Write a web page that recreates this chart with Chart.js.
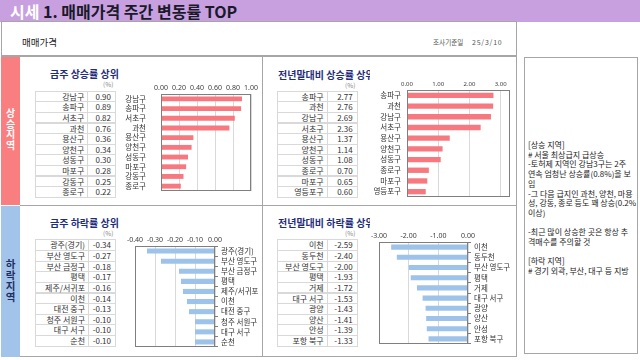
<!DOCTYPE html>
<html><head><meta charset="utf-8">
<script src="https://cdn.jsdelivr.net/npm/chart.js@4.4.1/dist/chart.umd.min.js"></script>
<style>
body{margin:0;width:640px;height:360px;overflow:hidden;background:#fff;font-family:"Noto Sans CJK KR","Noto Sans",sans-serif;position:relative;color:#222}
.a{position:absolute}
canvas{position:absolute}
.cell{position:absolute;box-sizing:border-box;border:1px solid #d9d9d9;font-size:8px;line-height:10px;white-space:nowrap;text-align:right;color:#333}
.sec{position:absolute;font-size:10px;font-weight:bold;color:#1f2e7a;white-space:nowrap;overflow:hidden;line-height:12px}
.pct{position:absolute;font-size:6.5px;color:#888;line-height:8px}
.vch{position:absolute;left:1px;width:19px;text-align:center;font-weight:bold}
</style></head><body>
<div class="a" style="left:0;top:0;width:640px;height:22px;background:#c8a0e0"></div>
<div class="a" style="left:10px;top:1px;font-size:16px;font-weight:bold;line-height:20px;white-space:nowrap;color:#1a1a2a"><span style="color:#fff">시세</span> 1. 매매가격 주간 변동률 TOP</div>
<div class="a" style="left:1px;top:21px;width:514px;height:33px;border:1px solid #a6a6a6;border-bottom:2px solid #a6a6a6;background:#fff"></div>
<div class="a" style="left:22px;top:36px;font-size:9.5px;line-height:12px">매매가격</div>
<div class="a" style="left:433px;top:37px;font-size:6.6px;line-height:10px;color:#555;white-space:nowrap">조사기준일</div>
<div class="a" style="left:472px;top:37px;font-size:7px;line-height:10px;color:#555;letter-spacing:0.8px">25/3/10</div>

<div class="a" style="left:20px;top:57px;width:496px;height:299px;border:1px solid #a6a6a6;border-top:none;border-left:none"></div>
<div class="a" style="left:262px;top:57px;width:1px;height:300px;background:#a6a6a6"></div>
<div class="a" style="left:20px;top:205px;width:497px;height:1px;background:#a6a6a6"></div>
<div class="a" style="left:1px;top:57px;width:19px;height:148px;background:#f97e80"></div>
<div class="a" style="left:1px;top:206px;width:19px;height:151px;background:#a2c4ea"></div>
<div id="bands"></div>

<div class="a" style="left:524px;top:57px;width:112px;height:295px;border:1px solid #a6a6a6"></div>
<div class="a" style="left:528px;top:140px;font-size:8px;line-height:9.7px;white-space:pre;color:#222">[상승 지역]
# 서울 최상급지 급상승
-토허제 지역인 강남3구는 2주
연속 엄청난 상승률(0.8%)을 보
임
-그 다음 급지인 과천, 양천, 마용
성, 강동, 종로 등도 꽤 상승(0.2%
이상)

-최근 많이 상승한 곳은 항상 추
격매수를 주의할 것

[하락 지역]
# 경기 외곽, 부산, 대구 등 지방</div>

<div class="sec" style="left:50px;top:68px">금주 상승률 상위</div>
<div class="sec" style="left:278px;top:69px;width:92px">전년말대비 상승률 상위</div>
<div class="sec" style="left:50px;top:217px">금주 하락률 상위</div>
<div class="sec" style="left:278px;top:217px;width:92px">전년말대비 하락률 상위</div>
<div class="pct" style="left:103px;top:80px">(%)</div>
<div class="pct" style="left:345px;top:81px">(%)</div>
<div class="pct" style="left:103px;top:229px">(%)</div>
<div class="pct" style="left:345px;top:229px">(%)</div>

<div id="tabs"></div>
<canvas id="c1" width="140" height="116" style="left:120px;top:80px"></canvas>
<canvas id="c2" width="155" height="126" style="left:360px;top:76px"></canvas>
<canvas id="c3" width="135" height="120" style="left:124px;top:231px"></canvas>
<canvas id="c4" width="150" height="120" style="left:368px;top:228px"></canvas>
<script>
const upWeekLabels = ['강남구','송파구','서초구','과천','용산구','양천구','성동구','마포구','강동구','종로구'];
const upWeekValues = [0.90,0.89,0.82,0.76,0.36,0.34,0.30,0.28,0.25,0.22];
const upYearLabels = ['송파구','과천','강남구','서초구','용산구','양천구','성동구','종로구','마포구','영등포구'];
const upYearValues = [2.77,2.76,2.69,2.36,1.37,1.14,1.08,0.70,0.65,0.60];
const downWeekLabels = ['광주(경기)','부산 영도구','부산 금정구','평택','제주/서귀포','이천','대전 중구','청주 서원구','대구 서구','순천'];
const downWeekValues = [-0.34,-0.27,-0.18,-0.17,-0.16,-0.14,-0.13,-0.10,-0.10,-0.10];
const downYearLabels = ['이천','동두천','부산 영도구','평택','거제','대구 서구','광양','양산','안성','포항 북구'];
const downYearValues = [-2.59,-2.40,-2.00,-1.93,-1.72,-1.53,-1.43,-1.41,-1.39,-1.33];
const upBandText = ['상','승','지','역'];
const downBandText = ['하','락','지','역'];

const RED = '#f7797f', BLUE = '#9ec3ea';

function buildBand(chars, top, step, size, color){
  const host = document.getElementById('bands');
  chars.forEach((ch, i) => {
    const d = document.createElement('div');
    d.className = 'vch';
    d.style.cssText = `top:${top + i*step}px;font-size:${size}px;line-height:${step}px;color:${color}`;
    d.textContent = ch;
    host.appendChild(d);
  });
}
buildBand(upBandText, 108, 10.6, 10, '#fff');
buildBand(downBandText, 258, 11, 10.5, '#1f3064');

function buildTable(left, top, w1, w2, rh, labels, values){
  const host = document.getElementById('tabs');
  labels.forEach((lab, i) => {
    const y = top + i * rh;
    const c1 = document.createElement('div');
    c1.className = 'cell';
    c1.style.cssText = `left:${left}px;top:${y}px;width:${w1+1}px;height:${rh+1}px;padding-right:3px;line-height:${rh}px`;
    c1.textContent = lab;
    const c2 = document.createElement('div');
    c2.className = 'cell';
    c2.style.cssText = `left:${left+w1}px;top:${y}px;width:${w2+1}px;height:${rh+1}px;padding-right:4px;line-height:${rh}px`;
    c2.textContent = values[i].toFixed(2);
    host.appendChild(c1); host.appendChild(c2);
  });
}
buildTable(35, 90.7, 52.3, 27.7, 10.6, upWeekLabels, upWeekValues);
buildTable(276.7, 90.7, 50, 30, 10.6, upYearLabels, upYearValues);
buildTable(35, 239.3, 53, 27, 10.64, downWeekLabels, downWeekValues);
buildTable(276.7, 239.3, 50, 30, 10.64, downYearLabels, downYearValues);

const boxPlugin = {
  id: 'box',
  afterDraw(chart){
    const a = chart.chartArea, ctx = chart.ctx;
    ctx.save();
    ctx.strokeStyle = '#7f7f7f'; ctx.lineWidth = 1;
    ctx.strokeRect(Math.round(a.left)+0.5, Math.round(a.top)+0.5, Math.round(a.right-a.left)-1, Math.round(a.bottom-a.top)-1);
    ctx.restore();
  }
};

function makeChart(id, labels, values, color, o){
  return new Chart(document.getElementById(id), {
    type: 'bar',
    data: { labels: labels, datasets: [{ data: values, backgroundColor: color, barPercentage: 0.5, categoryPercentage: 1 }] },
    options: {
      indexAxis: 'y', responsive: false, animation: false, maintainAspectRatio: false,
      layout: { padding: o.pad },
      plugins: { legend: { display: false }, tooltip: { enabled: false } },
      scales: {
        x: {
          position: 'top', min: o.min, max: o.max,
          ticks: { stepSize: o.step, includeBounds: false, callback: v => Number(v).toFixed(2), font: { size: o.tf, family: 'Noto Sans, sans-serif' }, color: '#404040', padding: 2, maxRotation: 0, autoSkip: false },
          afterBuildTicks: s => { s.ticks = s.ticks.filter(t => Math.abs(t.value / o.step - Math.round(t.value / o.step)) < 1e-6); },
          grid: { color: '#d9d9d9', drawTicks: false },
          border: { display: false },
          afterFit: s => { s.height = o.xh; s.paddingLeft = 0; s.paddingRight = 0; }
        },
        y: {
          position: o.ypos,
          ticks: { font: { size: 7.5, family: 'Noto Sans CJK KR' }, color: '#333', padding: o.ypad, autoSkip: false, minRotation: 0, maxRotation: 0 },
          grid: { display: o.tl > 0, drawOnChartArea: false, drawTicks: o.tl > 0, tickLength: o.tl, color: '#7f7f7f', offset: true },
          border: { display: false },
          afterFit: s => { s.width = o.yw; s.paddingTop = 0; s.paddingBottom = 0; }
        }
      }
    },
    plugins: [boxPlugin]
  });
}
makeChart('c1', upWeekLabels, upWeekValues, RED, { min: 0, max: 1, step: 0.2, tf: 7, xh: 14, yw: 41, ypos: 'left', ypad: 15, tl: 0, pad: {left:0, right:9, top:0, bottom:5} });
makeChart('c2', upYearLabels, upYearValues, RED, { min: 0, max: 3.3, step: 1, tf: 6, xh: 14, yw: 47, ypos: 'left', ypad: 6, tl: 0, pad: {left:0, right:5, top:0, bottom:5} });
makeChart('c3', downWeekLabels, downWeekValues, BLUE, { min: -0.4, max: 0, step: 0.1, tf: 7, xh: 15, yw: 44, ypos: 'right', ypad: 3, tl: 3, pad: {left:11, right:0, top:0, bottom:4} });
makeChart('c4', downYearLabels, downYearValues, BLUE, { min: -3, max: 0, step: 1, tf: 7, xh: 14, yw: 50, ypos: 'right', ypad: 3, tl: 3, pad: {left:11, right:0, top:0, bottom:4} });
</script>
</body></html>
